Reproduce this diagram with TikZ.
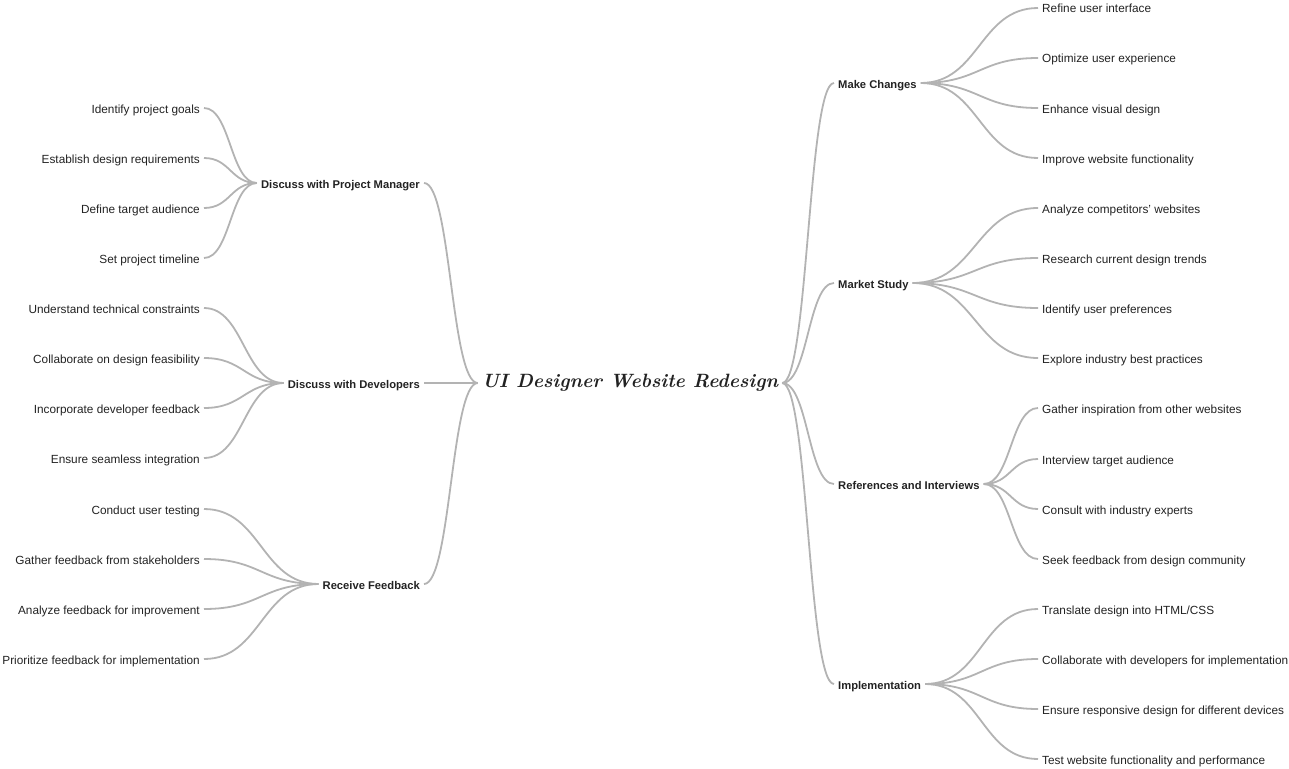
\documentclass[tikz,border=0pt]{standalone}
\usepackage{fontspec}
\usepackage{graphicx}
\setmainfont{Liberation Sans}
\newfontfamily\titlefont{Latin Modern Roman}
\usetikzlibrary{calc}
\definecolor{linegray}{HTML}{B3B3B3}
\definecolor{inkdark}{HTML}{222222}
\tikzset{
  x=1pt, y=-1pt,
  conn/.style={draw=linegray, line width=1.8pt},
  txt/.style={inner xsep=4pt, inner ysep=0pt, text height=10pt, text depth=0pt, text=inkdark},
  leafR/.style={txt, anchor=west, font=\fontsize{11.8}{13}\selectfont},
  leafL/.style={txt, anchor=east, font=\fontsize{11.8}{13}\selectfont},
  branchR/.style={txt, anchor=west, font=\fontsize{11.2}{13}\selectfont\bfseries},
  branchL/.style={txt, anchor=east, font=\fontsize{11.2}{13}\selectfont\bfseries},
  rootnode/.style={inner sep=0pt, minimum width=304pt, minimum height=24pt, text=inkdark},
}
% smooth S-shaped link with horizontal tangents at both ends
\newcommand{\mmlink}[2]{%
  \draw[conn] let \p1=(#1), \p2=(#2) in
    (\p1) .. controls ({(\x1+\x2)/2},\y1) and ({(\x1+\x2)/2},\y2) .. (\p2);}
\begin{document}
\begin{tikzpicture}
\useasboundingbox (0,0) rectangle (1289,768);

% root
\node[rootnode] (root) at (630,383)
  {\resizebox{296pt}{!}{\fontsize{20}{24}\titlefont\bfseries\itshape UI Designer Website Redesign}};

% left branches
\node[branchL] (pm)  at (424,183) {Discuss with Project Manager};
\node[branchL] (dev) at (424,383) {Discuss with Developers};
\node[branchL] (fb)  at (424,584) {Receive Feedback};

% right branches
\node[branchR] (mc)  at (834,83)  {Make Changes};
\node[branchR] (ms)  at (834,283) {Market Study};
\node[branchR] (ri)  at (834,484) {References and Interviews};
\node[branchR] (imp) at (834,684) {Implementation};

% left leaves
\node[leafL] (pm1) at (204,108) {Identify project goals};
\node[leafL] (pm2) at (204,158) {Establish design requirements};
\node[leafL] (pm3) at (204,208) {Define target audience};
\node[leafL] (pm4) at (204,258) {Set project timeline};
\node[leafL] (dv1) at (204,308) {Understand technical constraints};
\node[leafL] (dv2) at (204,358) {Collaborate on design feasibility};
\node[leafL] (dv3) at (204,408) {Incorporate developer feedback};
\node[leafL] (dv4) at (204,458) {Ensure seamless integration};
\node[leafL] (fb1) at (204,509) {Conduct user testing};
\node[leafL] (fb2) at (204,559) {Gather feedback from stakeholders};
\node[leafL] (fb3) at (204,609) {Analyze feedback for improvement};
\node[leafL] (fb4) at (204,659) {Prioritize feedback for implementation};

% right leaves
\node[leafR] (mc1) at (1038,8)   {Refine user interface};
\node[leafR] (mc2) at (1038,58)  {Optimize user experience};
\node[leafR] (mc3) at (1038,108) {Enhance visual design};
\node[leafR] (mc4) at (1038,158) {Improve website functionality};
\node[leafR] (ms1) at (1038,208) {Analyze competitors' websites};
\node[leafR] (ms2) at (1038,258) {Research current design trends};
\node[leafR] (ms3) at (1038,308) {Identify user preferences};
\node[leafR] (ms4) at (1038,358) {Explore industry best practices};
\node[leafR] (ri1) at (1038,408) {Gather inspiration from other websites};
\node[leafR] (ri2) at (1038,459) {Interview target audience};
\node[leafR] (ri3) at (1038,509) {Consult with industry experts};
\node[leafR] (ri4) at (1038,559) {Seek feedback from design community};
\node[leafR] (im1) at (1038,609) {Translate design into HTML/CSS};
\node[leafR] (im2) at (1038,659) {Collaborate with developers for implementation};
\node[leafR] (im3) at (1038,709) {Ensure responsive design for different devices};
\node[leafR] (im4) at (1038,759) {Test website functionality and performance};

% root to branches
\mmlink{pm.east}{root.west}
\mmlink{dev.east}{root.west}
\mmlink{fb.east}{root.west}
\mmlink{root.east}{mc.west}
\mmlink{root.east}{ms.west}
\mmlink{root.east}{ri.west}
\mmlink{root.east}{imp.west}

% branches to leaves (left)
\foreach \l in {pm1,pm2,pm3,pm4} {\mmlink{\l.east}{pm.west}}
\foreach \l in {dv1,dv2,dv3,dv4} {\mmlink{\l.east}{dev.west}}
\foreach \l in {fb1,fb2,fb3,fb4} {\mmlink{\l.east}{fb.west}}

% branches to leaves (right)
\foreach \l in {mc1,mc2,mc3,mc4} {\mmlink{mc.east}{\l.west}}
\foreach \l in {ms1,ms2,ms3,ms4} {\mmlink{ms.east}{\l.west}}
\foreach \l in {ri1,ri2,ri3,ri4} {\mmlink{ri.east}{\l.west}}
\foreach \l in {im1,im2,im3,im4} {\mmlink{imp.east}{\l.west}}
\end{tikzpicture}
\end{document}
